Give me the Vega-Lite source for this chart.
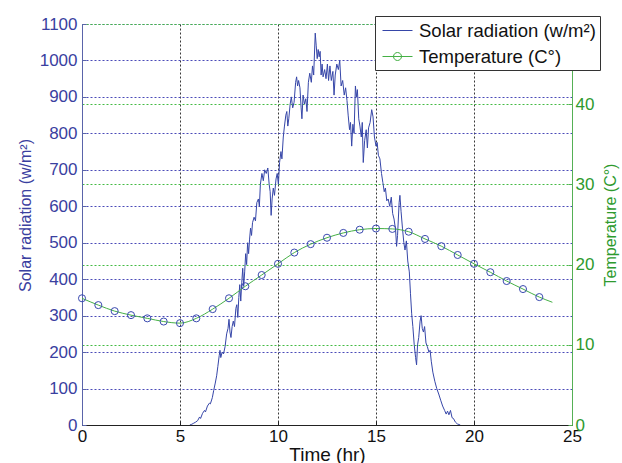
{
  "$schema": "https://vega.github.io/schema/vega-lite/v6.json",
  "width": 490,
  "height": 401,
  "autosize": {"type": "none"},
  "padding": {"left": 82, "top": 24, "right": 50, "bottom": 38},
  "background": "white",
  "config": {"font": "Liberation Sans", "view": {"stroke": null}},
  "datasets": {
    "solar": [
      {"t":5.50,"w":0},{"t":5.60,"w":2},{"t":5.70,"w":5},{"t":5.80,"w":8},{"t":5.90,"w":12},{"t":6.00,"w":22},{"t":6.05,"w":18},{"t":6.15,"w":32},{"t":6.25,"w":40},{"t":6.30,"w":36},{"t":6.40,"w":52},{"t":6.50,"w":60},{"t":6.55,"w":58},{"t":6.65,"w":75},{"t":6.72,"w":95},{"t":6.80,"w":115},{"t":6.87,"w":135},{"t":6.93,"w":160},{"t":7.00,"w":190},{"t":7.04,"w":205},{"t":7.08,"w":185},{"t":7.15,"w":200},{"t":7.22,"w":195},{"t":7.30,"w":215},{"t":7.38,"w":250},{"t":7.45,"w":265},{"t":7.50,"w":290},{"t":7.55,"w":255},{"t":7.60,"w":240},{"t":7.66,"w":270},{"t":7.72,"w":285},{"t":7.78,"w":270},{"t":7.85,"w":320},{"t":7.90,"w":330},{"t":7.95,"w":295},{"t":8.00,"w":350},{"t":8.05,"w":385},{"t":8.10,"w":340},{"t":8.15,"w":390},{"t":8.20,"w":430},{"t":8.25,"w":380},{"t":8.30,"w":420},{"t":8.35,"w":470},{"t":8.40,"w":440},{"t":8.45,"w":500},{"t":8.50,"w":470},{"t":8.55,"w":510},{"t":8.60,"w":540},{"t":8.65,"w":520},{"t":8.70,"w":555},{"t":8.78,"w":570},{"t":8.85,"w":560},{"t":8.92,"w":610},{"t":9.00,"w":620},{"t":9.05,"w":600},{"t":9.10,"w":660},{"t":9.18,"w":690},{"t":9.25,"w":670},{"t":9.32,"w":700},{"t":9.40,"w":690},{"t":9.48,"w":705},{"t":9.55,"w":660},{"t":9.60,"w":640},{"t":9.65,"w":575},{"t":9.70,"w":620},{"t":9.76,"w":650},{"t":9.82,"w":630},{"t":9.90,"w":675},{"t":9.96,"w":690},{"t":10.02,"w":660},{"t":10.08,"w":720},{"t":10.15,"w":750},{"t":10.20,"w":730},{"t":10.27,"w":790},{"t":10.33,"w":820},{"t":10.40,"w":850},{"t":10.45,"w":860},{"t":10.50,"w":820},{"t":10.55,"w":840},{"t":10.62,"w":880},{"t":10.68,"w":900},{"t":10.75,"w":870},{"t":10.82,"w":885},{"t":10.90,"w":940},{"t":10.95,"w":955},{"t":11.00,"w":930},{"t":11.05,"w":945},{"t":11.12,"w":925},{"t":11.18,"w":870},{"t":11.22,"w":840},{"t":11.28,"w":905},{"t":11.35,"w":880},{"t":11.42,"w":895},{"t":11.48,"w":860},{"t":11.55,"w":940},{"t":11.62,"w":965},{"t":11.70,"w":940},{"t":11.76,"w":985},{"t":11.82,"w":960},{"t":11.90,"w":1075},{"t":11.95,"w":1040},{"t":12.00,"w":1005},{"t":12.05,"w":1030},{"t":12.10,"w":1010},{"t":12.15,"w":1025},{"t":12.20,"w":960},{"t":12.25,"w":990},{"t":12.30,"w":955},{"t":12.38,"w":975},{"t":12.45,"w":950},{"t":12.52,"w":990},{"t":12.58,"w":945},{"t":12.65,"w":985},{"t":12.72,"w":945},{"t":12.80,"w":970},{"t":12.86,"w":905},{"t":12.92,"w":960},{"t":13.00,"w":990},{"t":13.08,"w":975},{"t":13.15,"w":1000},{"t":13.22,"w":930},{"t":13.30,"w":945},{"t":13.38,"w":905},{"t":13.45,"w":925},{"t":13.52,"w":890},{"t":13.58,"w":850},{"t":13.65,"w":810},{"t":13.70,"w":830},{"t":13.76,"w":765},{"t":13.82,"w":825},{"t":13.88,"w":800},{"t":13.95,"w":930},{"t":14.00,"w":900},{"t":14.05,"w":920},{"t":14.12,"w":840},{"t":14.18,"w":820},{"t":14.25,"w":790},{"t":14.30,"w":830},{"t":14.35,"w":720},{"t":14.42,"w":780},{"t":14.50,"w":810},{"t":14.56,"w":760},{"t":14.62,"w":815},{"t":14.70,"w":830},{"t":14.78,"w":865},{"t":14.85,"w":845},{"t":14.92,"w":790},{"t":15.00,"w":765},{"t":15.06,"w":775},{"t":15.12,"w":740},{"t":15.20,"w":730},{"t":15.28,"w":690},{"t":15.35,"w":665},{"t":15.42,"w":640},{"t":15.48,"w":650},{"t":15.55,"w":615},{"t":15.62,"w":620},{"t":15.70,"w":600},{"t":15.78,"w":625},{"t":15.85,"w":580},{"t":15.92,"w":565},{"t":16.00,"w":535},{"t":16.05,"w":490},{"t":16.10,"w":520},{"t":16.18,"w":610},{"t":16.22,"w":630},{"t":16.28,"w":585},{"t":16.35,"w":540},{"t":16.42,"w":500},{"t":16.48,"w":480},{"t":16.55,"w":505},{"t":16.62,"w":450},{"t":16.70,"w":420},{"t":16.76,"w":360},{"t":16.82,"w":305},{"t":16.88,"w":270},{"t":16.95,"w":220},{"t":17.02,"w":185},{"t":17.07,"w":165},{"t":17.12,"w":220},{"t":17.18,"w":240},{"t":17.25,"w":285},{"t":17.30,"w":300},{"t":17.36,"w":265},{"t":17.42,"w":255},{"t":17.48,"w":270},{"t":17.55,"w":225},{"t":17.62,"w":215},{"t":17.70,"w":200},{"t":17.76,"w":205},{"t":17.82,"w":175},{"t":17.90,"w":145},{"t":18.00,"w":120},{"t":18.10,"w":100},{"t":18.20,"w":85},{"t":18.30,"w":68},{"t":18.40,"w":52},{"t":18.50,"w":40},{"t":18.58,"w":30},{"t":18.65,"w":38},{"t":18.72,"w":28},{"t":18.80,"w":40},{"t":18.88,"w":20},{"t":18.95,"w":18},{"t":19.05,"w":8},{"t":19.15,"w":3},{"t":19.30,"w":0}
    ],
    "temp": [
      {"t":0,"c":15.8,"m":true},{"t":0.833,"c":14.95,"m":true},{"t":1.667,"c":14.2,"m":true},{"t":2.5,"c":13.7,"m":true},{"t":3.333,"c":13.3,"m":true},{"t":4.167,"c":12.9,"m":true},{"t":5.0,"c":12.7,"m":true},{"t":5.833,"c":13.3,"m":true},{"t":6.667,"c":14.45,"m":true},{"t":7.5,"c":15.8,"m":true},{"t":8.333,"c":17.3,"m":true},{"t":9.167,"c":18.7,"m":true},{"t":10.0,"c":20.1,"m":true},{"t":10.833,"c":21.5,"m":true},{"t":11.667,"c":22.55,"m":true},{"t":12.5,"c":23.35,"m":true},{"t":13.333,"c":23.95,"m":true},{"t":14.167,"c":24.35,"m":true},{"t":15.0,"c":24.5,"m":true},{"t":15.833,"c":24.45,"m":true},{"t":16.667,"c":24.1,"m":true},{"t":17.5,"c":23.2,"m":true},{"t":18.333,"c":22.3,"m":true},{"t":19.167,"c":21.2,"m":true},{"t":20.0,"c":20.1,"m":true},{"t":20.833,"c":19.05,"m":true},{"t":21.667,"c":17.95,"m":true},{"t":22.5,"c":16.95,"m":true},{"t":23.333,"c":15.95,"m":true},{"t":24.0,"c":15.3,"m":false}
    ]
  },
  "encoding": {
    "x": {
      "field": "t", "type": "quantitative",
      "scale": {"domain": [0, 25], "nice": false, "zero": false},
      "axis": {
        "title": "Time (hr)", "values": [0, 5, 10, 15, 20, 25],
        "grid": true, "gridColor": "#222222", "gridDash": [2, 2], "gridOpacity": 0.9,
        "domainColor": "#222222", "tickColor": "#222222", "tickSize": -4,
        "labelFontSize": 17, "labelColor": "#111111", "labelPadding": 7,
        "labelFlush": false, "labelOverlap": false,
        "titleFontSize": 19, "titleFontWeight": "normal", "titleColor": "#111111", "titlePadding": 1
      }
    }
  },
  "layer": [
    {
      "data": {"name": "solar"},
      "mark": {"type": "line", "strokeWidth": 1, "clip": true},
      "encoding": {
        "y": {
          "field": "w", "type": "quantitative",
          "scale": {"domain": [0, 1100], "nice": false},
          "axis": {
            "orient": "left", "title": "Solar radiation (w/m²)", "format": "d",
            "values": [0, 100, 200, 300, 400, 500, 600, 700, 800, 900, 1000, 1100],
            "grid": true, "gridColor": "#4a4ab8", "gridDash": [2, 2],
            "domainColor": "#5a64aa", "tickColor": "#5a64aa", "tickSize": -4,
            "labelColor": "#3a40a0", "labelFontSize": 17, "labelPadding": 9,
            "titleColor": "#3a40a0", "titleFontSize": 16, "titleFontWeight": "normal", "titlePadding": 6,
            "titleY": 191
          }
        },
        "color": {
          "datum": "Solar radiation (w/m²)",
          "scale": {"domain": ["Solar radiation (w/m²)", "Temperature (C°)"], "range": ["#3646a8", "#45b045"]},
          "legend": {
            "title": null, "orient": "none", "legendX": 293, "legendY": -8,
            "fillColor": "white", "strokeColor": "#333333", "padding": 4,
            "labelFontSize": 18.5, "labelColor": "#111111", "labelOffset": 11, "labelLimit": 300,
            "symbolSize": 400, "symbolStrokeWidth": 1, "symbolOffset": 8, "rowPadding": 6,
            "encode": {
              "symbols": {
                "update": {
                  "shape": {"signal": "datum.value === 'Temperature (C°)' ? 'M-1.5,0H1.5M0.4,0A0.4,0.4 0 1,1 -0.4,0A0.4,0.4 0 1,1 0.4,0' : 'M-1.5,0H1.5'"},
                  "fill": {"value": "transparent"}
                }
              }
            }
          }
        }
      }
    },
    {
      "data": {"name": "temp"},
      "encoding": {
        "y": {
          "field": "c", "type": "quantitative",
          "scale": {"domain": [0, 50], "nice": false},
          "axis": {
            "orient": "right", "title": "Temperature (C°)",
            "values": [0, 10, 20, 30, 40, 50],
            "labelExpr": "datum.value == 50 ? '' : datum.label",
            "grid": true, "gridColor": "#44bb44", "gridDash": [2, 2],
            "domainColor": "#55b055", "tickColor": "#55b055", "tickSize": -4,
            "labelColor": "#2e9a2e", "labelFontSize": 17, "labelPadding": 7,
            "titleColor": "#2e9a2e", "titleFontSize": 16, "titleFontWeight": "normal",
            "titleAngle": 270, "titleBaseline": "top", "titlePadding": 9
          }
        }
      },
      "layer": [
        {
          "mark": {"type": "line", "strokeWidth": 1, "interpolate": "monotone"},
          "encoding": {"color": {"datum": "Temperature (C°)"}}
        },
        {
          "transform": [{"filter": "datum.m"}],
          "mark": {"type": "point", "shape": "circle", "filled": false, "size": 50, "strokeWidth": 1, "color": "#3a4ab0", "opacity": 1}
        }
      ]
    }
  ],
  "resolve": {"scale": {"y": "independent"}}
}
